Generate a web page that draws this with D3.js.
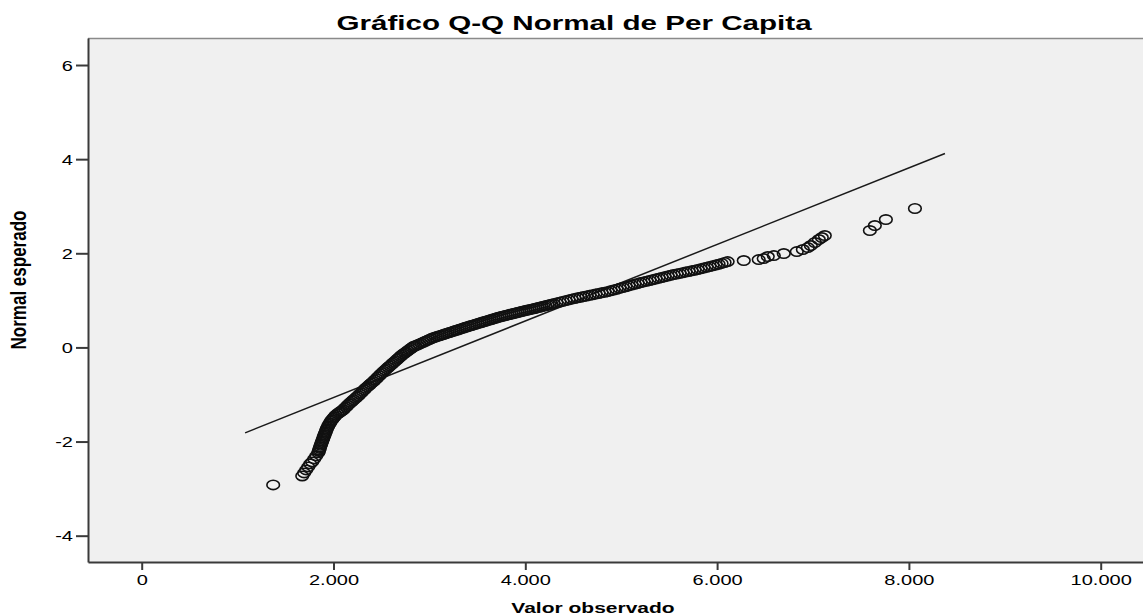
<!DOCTYPE html>
<html>
<head>
<meta charset="utf-8">
<script src="https://cdn.jsdelivr.net/npm/d3@7"></script>
<style>
  body { margin: 0; background: #fff; }
  svg { display: block; }
  text { font-family: "Liberation Sans", Arial, sans-serif; fill: #000; }
</style>
</head>
<body>
<svg id="chart" width="1143" height="616"></svg>
<script>
var lowerTail = [[1371,-2.921],[1674,-2.730],[1694,-2.666],[1715,-2.602],[1736,-2.538],[1757,-2.474],
  [1778,-2.432],[1799,-2.368],[1820,-2.304]];

// the steep part of the band
var steepBand = [[1841,-2.240],[1846,-2.209],[1851,-2.177],[1856,-2.145],[1861,-2.113],[1867,-2.081],
  [1872,-2.049],[1878,-2.017],[1883,-1.985],[1890,-1.953],[1895,-1.921],[1901,-1.889],[1907,-1.857],
  [1913,-1.826],[1919,-1.794],[1925,-1.762],[1930,-1.730],[1938,-1.698],[1946,-1.666],[1955,-1.634],
  [1965,-1.602],[1973,-1.570],[1985,-1.538],[1998,-1.506],[2011,-1.474],[2024,-1.443],[2043,-1.411],
  [2058,-1.389],[2072,-1.368],[2087,-1.347],[2102,-1.326],
  [2117,-1.294],[2133,-1.262],[2149,-1.230],[2164,-1.198],[2180,-1.168],[2196,-1.139],[2211,-1.111],
  [2227,-1.083],[2243,-1.055],[2258,-1.028],[2274,-0.996],[2289,-0.964],[2305,-0.932],[2321,-0.900],
  [2336,-0.868],[2352,-0.838],[2368,-0.811],[2383,-0.781],[2399,-0.753],[2415,-0.726],[2430,-0.696],
  [2446,-0.666],[2462,-0.634],[2477,-0.602],[2493,-0.570],[2509,-0.538],[2524,-0.509],[2540,-0.479],
  [2556,-0.451],[2571,-0.423],[2587,-0.394],[2603,-0.366],[2618,-0.338],[2634,-0.309],[2650,-0.281],
  [2665,-0.251],[2681,-0.223],[2697,-0.194],[2712,-0.166],[2728,-0.140],[2744,-0.117],[2759,-0.094],
  [2775,-0.070],[2791,-0.047],[2806,-0.023],[2822,0.000],[2838,0.023]];

// the flatter middle of the band
var middleBand = [[2853,0.034],[2874,0.053],[2895,0.072],[2916,0.091],[2937,0.111],[2958,0.130],
  [2979,0.149],[2999,0.168],[3020,0.187],[3041,0.206],[3062,0.220],[3083,0.234],[3104,0.248],
  [3125,0.261],[3146,0.275],[3167,0.289],[3187,0.303],[3208,0.317],[3229,0.330],[3250,0.344],
  [3271,0.358],[3292,0.371],[3313,0.385],[3334,0.399],[3355,0.413],[3375,0.427],[3396,0.440],
  [3417,0.453],[3438,0.466],[3459,0.479],[3480,0.492],[3501,0.505],[3522,0.518],[3543,0.531],
  [3563,0.544],[3584,0.556],[3605,0.569],[3626,0.582],[3647,0.595],[3668,0.608],[3689,0.621],
  [3710,0.634],[3731,0.647],[3751,0.658],[3772,0.669],[3793,0.679],[3814,0.689],[3835,0.700],
  [3856,0.710],[3877,0.720],[3898,0.731],[3919,0.741],[3939,0.751],[3960,0.761],[3981,0.772],
  [4002,0.782],[4023,0.793],[4044,0.803],[4065,0.813],[4086,0.823],[4106,0.834],[4127,0.845],
  [4148,0.855],[4169,0.866],[4190,0.877],[4211,0.887],[4232,0.898],[4253,0.909],[4274,0.919],
  [4294,0.930]];

// upper part of the band, a bit looser
var upperBand = [[4325,0.946],[4357,0.962],[4388,0.978],[4419,0.994],[4451,1.010],[4482,1.026],
  [4513,1.041],[4545,1.054],[4576,1.067],[4607,1.080],[4638,1.093],[4670,1.106],[4701,1.119],
  [4732,1.133],[4764,1.146],[4795,1.159],[4826,1.172],[4858,1.185],[4889,1.203],[4920,1.220],
  [4952,1.237],[4983,1.255],[5014,1.272],[5045,1.290],[5077,1.307],[5108,1.324],[5139,1.342],
  [5171,1.359],[5202,1.377],[5233,1.392],[5264,1.407],[5296,1.423],[5327,1.439],[5358,1.454],
  [5390,1.469],[5421,1.485],[5452,1.500],[5484,1.516],[5515,1.531],[5546,1.547],[5578,1.560],
  [5609,1.573],[5640,1.587],[5671,1.600],[5703,1.613],[5734,1.627],[5765,1.640],[5797,1.653],
  [5828,1.669],[5859,1.685],[5891,1.701],[5922,1.717],[5953,1.733],[5985,1.749],[6016,1.766],
  [6047,1.785],[6078,1.804],[6110,1.823]];

var upperTail = [[6278,1.845],[6434,1.866],[6486,1.887],[6528,1.930],[6591,1.951],[6695,1.994],
  [6831,2.036],[6894,2.079],[6946,2.121],[6977,2.164],[7019,2.228],[7061,2.291],[7092,2.334],
  [7123,2.376],[7593,2.483],[7645,2.589],[7760,2.717],[8063,2.951]];

// reference line ends
var lineX = [1078, 8376];
var lineY = [-1.815, 4.121];

var xTicks = [0, 2000, 4000, 6000, 8000, 10000];
var yTicks = [-4, -2, 0, 2, 4, 6];

var title = "Gráfico Q-Q Normal de Per Capita";
var xTitle = "Valor observado";
var yTitle = "Normal esperado";

var stretch = 1.43; // the original is drawn wide

var locale = d3.formatLocale({decimal: ",", thousands: ".", grouping: [3], currency: ["", ""], minus: "-"});
var fmt = locale.format(",d");

var allPoints = lowerTail.concat(steepBand, middleBand, upperBand, upperTail);

var svg = d3.select("#chart");
var plotLeft = 88, plotRight = 1143, plotTop = 38, plotBottom = 562;

var x = d3.scaleLinear().domain([-560, 10441]).range([plotLeft, plotRight]);
var y = d3.scaleLinear().domain([-4.559, 6.574]).range([plotBottom, plotTop]);

svg.append("rect")
  .attr("x", plotLeft).attr("y", plotTop)
  .attr("width", plotRight - plotLeft).attr("height", plotBottom - plotTop)
  .attr("fill", "#f0f0f0");

svg.append("line")
  .attr("x1", plotLeft).attr("x2", plotRight)
  .attr("y1", plotTop + 0.5).attr("y2", plotTop + 0.5)
  .attr("stroke", "#8a8a8a").attr("stroke-width", 1.5);

// x axis
var gx = svg.append("g")
  .attr("transform", "translate(0," + plotBottom + ")")
  .call(d3.axisBottom(x).tickValues(xTicks).tickFormat(fmt).tickSize(8).tickSizeOuter(0));
gx.select(".domain").attr("stroke", "#3a3a3a").attr("stroke-width", 2);
gx.selectAll(".tick line").attr("stroke", "#3a3a3a").attr("stroke-width", 2);
gx.selectAll(".tick text")
  .attr("y", 23).attr("dy", 0)
  .attr("transform", "scale(" + stretch + ",1)")
  .style("font-size", "14px").style("font-family", "Liberation Sans, Arial, sans-serif").attr("fill", "#111");

// y axis
var gy = svg.append("g")
  .attr("transform", "translate(" + plotLeft + ",0)")
  .call(d3.axisLeft(y).tickValues(yTicks).tickFormat(fmt).tickSize(12).tickSizeOuter(0));
gy.select(".domain").attr("stroke", "#3a3a3a").attr("stroke-width", 2);
gy.selectAll(".tick line").attr("stroke", "#3a3a3a").attr("stroke-width", 2);
gy.selectAll(".tick text")
  .attr("x", -15 / stretch).attr("dy", "0.36em")
  .attr("transform", "scale(" + stretch + ",1)")
  .style("font-size", "14px").style("font-family", "Liberation Sans, Arial, sans-serif").attr("fill", "#111");

// reference line
svg.append("line")
  .attr("x1", x(lineX[0])).attr("y1", y(lineY[0]))
  .attr("x2", x(lineX[1])).attr("y2", y(lineY[1]))
  .attr("stroke", "#1a1a1a").attr("stroke-width", 1.5);

// points
svg.append("g").selectAll("ellipse")
  .data(allPoints)
  .enter()
  .append("ellipse")
  .attr("cx", function(d){ return x(d[0]); })
  .attr("cy", function(d){ return y(d[1]); })
  .attr("rx", 6.3)
  .attr("ry", 4.7)
  .attr("fill", "none")
  .attr("stroke", "#111")
  .attr("stroke-width", 1.6);

// titles
svg.append("text")
  .attr("transform", "translate(574,30) scale(1.48,1)")
  .attr("text-anchor", "middle")
  .style("font-size", "20px").style("font-weight", "bold")
  .text(title);

svg.append("text")
  .attr("transform", "translate(593,613) scale(1.4,1)")
  .attr("text-anchor", "middle")
  .style("font-size", "15px").style("font-weight", "bold")
  .text(xTitle);

svg.append("text")
  .attr("transform", "translate(26,280) scale(1.3,1) rotate(-90)")
  .attr("text-anchor", "middle")
  .style("font-size", "17px").style("font-weight", "bold")
  .text(yTitle);
</script>
</body>
</html>
